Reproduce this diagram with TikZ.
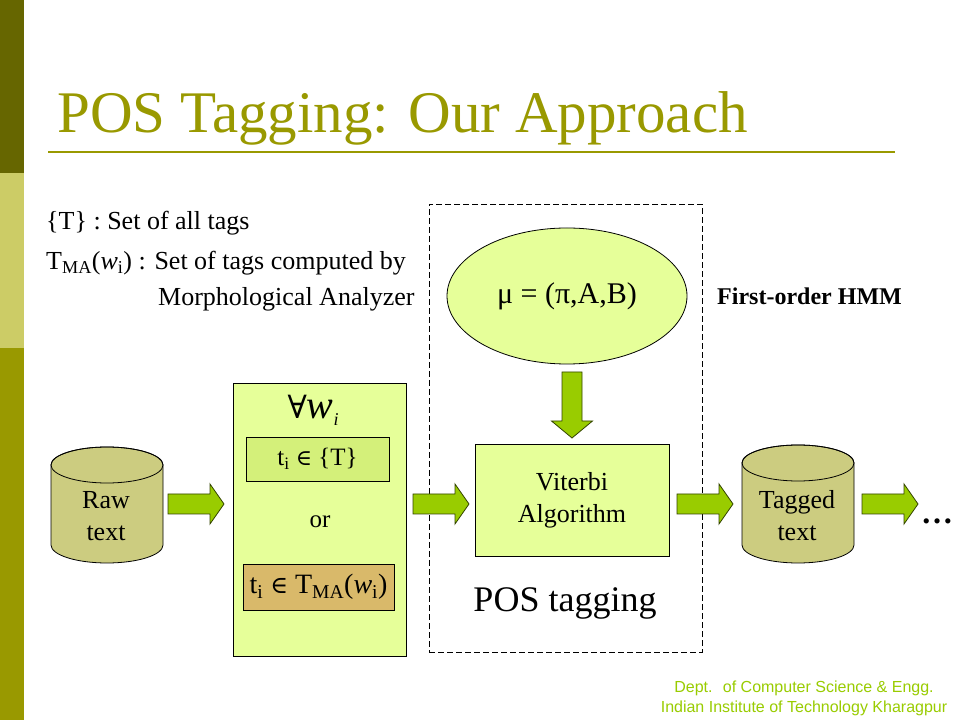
\documentclass[tikz,border=0pt]{standalone}
\usepackage{fontspec}
\setmainfont{Liberation Serif}
\newfontfamily\arialf{Liberation Sans}
\newfontfamily\symf{DejaVu Serif}
\usetikzlibrary{shapes.geometric}
\definecolor{bardark}{HTML}{666600}
\definecolor{barlight}{HTML}{CCCC66}
\definecolor{barmid}{HTML}{999900}
\definecolor{titlecol}{HTML}{999900}
\definecolor{palegreen}{HTML}{E6FF99}
\definecolor{boxgreen}{HTML}{D4F07A}
\definecolor{tanbox}{HTML}{D9B96A}
\definecolor{cylfill}{HTML}{CCCC80}
\definecolor{arrowgreen}{HTML}{99CC00}
\definecolor{arrowline}{HTML}{334400}
\definecolor{footcol}{HTML}{99CC00}
\newcommand\myfs[2]{\fontsize{#1}{#2}\selectfont}
\tikzset{
  txt/.style={inner sep=0pt, anchor=base west},
  procbox/.style={draw=black, line width=0.8pt, fill=palegreen, inner sep=0pt},
  smallbox/.style={draw=black, line width=0.8pt, inner sep=0pt},
  dashedbox/.style={draw=black, line width=0.8pt, dash pattern=on 6pt off 3pt, inner sep=0pt},
  cylstyle/.style={draw=black, line width=0.8pt, fill=cylfill},
  blockarrow/.style={draw=arrowline, line width=0.8pt, fill=arrowgreen, line join=miter},
  rarrow/.pic={\draw[blockarrow] (0,-10) -- (42,-10) -- (42,-20) -- (56,0) -- (42,20) -- (42,10) -- (0,10) -- cycle;},
  darrow/.pic={\draw[blockarrow] (-10,0) -- (-10,-49) -- (-20.5,-49) -- (0,-66) -- (20.5,-49) -- (10,-49) -- (10,0) -- cycle;}
}
\begin{document}
\begin{tikzpicture}[x=1pt,y=1pt]
\useasboundingbox (0,0) rectangle (960,720);
\fill[white] (0,0) rectangle (960,720);
% left bar
\fill[bardark] (0,547) rectangle (24,720);
\fill[barlight] (0,372) rectangle (24,547);
\fill[barmid] (0,0) rectangle (24,372);
% title
\node[txt, text=titlecol, font=\myfs{59}{59}] (title) at (57,587) {POS Tagging: Our Approach};
\draw[titlecol, line width=2pt] (48,568) coordinate (rulel) -- (895,568) coordinate (ruler);
% definitions
\node[txt, font=\myfs{26}{26}] (def1) at (46,490) {\{T\} : Set of all tags};
\node[txt, font=\myfs{26}{26}] (def2) at (46,450) {T\textsubscript{MA}(\textit{w}\textsubscript{i}) : Set of tags computed by};
\node[txt, font=\myfs{26}{26}] (def3) at (158,414) {Morphological Analyzer};
% dashed HMM region
\node[dashedbox, minimum width=273pt, minimum height=448pt] (hmmbox) at (565.5,292) {};
% ellipse
\node[ellipse, draw=black, line width=0.8pt, fill=palegreen, minimum width=240pt, minimum height=136pt, inner sep=0pt, font=\myfs{30}{30}] (mu) at (567,424) {μ = (π,A,B)};
\node[txt, font=\myfs{24}{24}\bfseries] (hmm) at (717,415) {First-order HMM};
% down arrow
\pic at (572,348) {darrow};
% Viterbi
\node[procbox, minimum width=194pt, minimum height=112pt, align=center, font=\myfs{26}{32}] (viterbi) at (572,220) {Viterbi\\Algorithm};
\node[inner sep=0pt, font=\myfs{36}{36}] (postag) at (565,117) {POS tagging};
% middle box
\node[procbox, minimum width=173pt, minimum height=273pt] (mid) at (319.5,200.5) {};
\node[inner sep=0pt, font=\myfs{40}{40}] (forall) at (313,310) {{\symf\myfs{32}{32}∀}\textit{w}\raisebox{-7pt}{\myfs{18}{18}\textit{i}}};
\node[smallbox, fill=boxgreen, minimum width=143pt, minimum height=44pt, font=\myfs{25}{25}] (tagset) at (317.5,261) {t\textsubscript{i} {\symf\myfs{22}{22}∈}\ \{T\}};
\node[inner sep=0pt, font=\myfs{25}{25}] (or) at (320,198) {or};
\node[smallbox, fill=tanbox, minimum width=151pt, minimum height=46pt, font=\myfs{28}{28}] (tagma) at (318.5,133) {t\textsubscript{i} {\symf\myfs{24}{24}∈} T\textsubscript{MA}(\textit{w}\textsubscript{i})};
% cylinders
\path[cylstyle] (51,255) -- (51,175) arc[start angle=180, end angle=360, x radius=56pt, y radius=18pt] -- (163,255) arc[start angle=0, end angle=180, x radius=56pt, y radius=18pt] -- cycle;
\draw[line width=0.8pt] (107,255) ellipse[x radius=56pt, y radius=18pt];
\node[inner sep=0pt, align=center, font=\myfs{26}{32}] (raw) at (106,204) {Raw\\text};
\path[cylstyle] (742,257) -- (742,175) arc[start angle=180, end angle=360, x radius=56pt, y radius=18pt] -- (854,257) arc[start angle=0, end angle=180, x radius=56pt, y radius=18pt] -- cycle;
\draw[line width=0.8pt] (798,257) ellipse[x radius=56pt, y radius=18pt];
\node[inner sep=0pt, align=center, font=\myfs{26}{32}] (tagged) at (797,204) {Tagged\\text};
% right arrows
\pic at (168,216) {rarrow};
\pic at (413,216) {rarrow};
\pic at (677,216) {rarrow};
\pic at (862,216) {rarrow};
\node[txt, font=\myfs{32}{32}\bfseries] (dots) at (921,196) {…};
% footer
\node[inner sep=0pt, anchor=base, text=footcol, font=\arialf\myfs{16}{16}] (foot1) at (804,28) {Dept. \ of Computer Science \& Engg.};
\node[inner sep=0pt, anchor=base, text=footcol, font=\arialf\myfs{16}{16}] (foot2) at (804,8) {Indian Institute of Technology Kharagpur};
\end{tikzpicture}
\end{document}
